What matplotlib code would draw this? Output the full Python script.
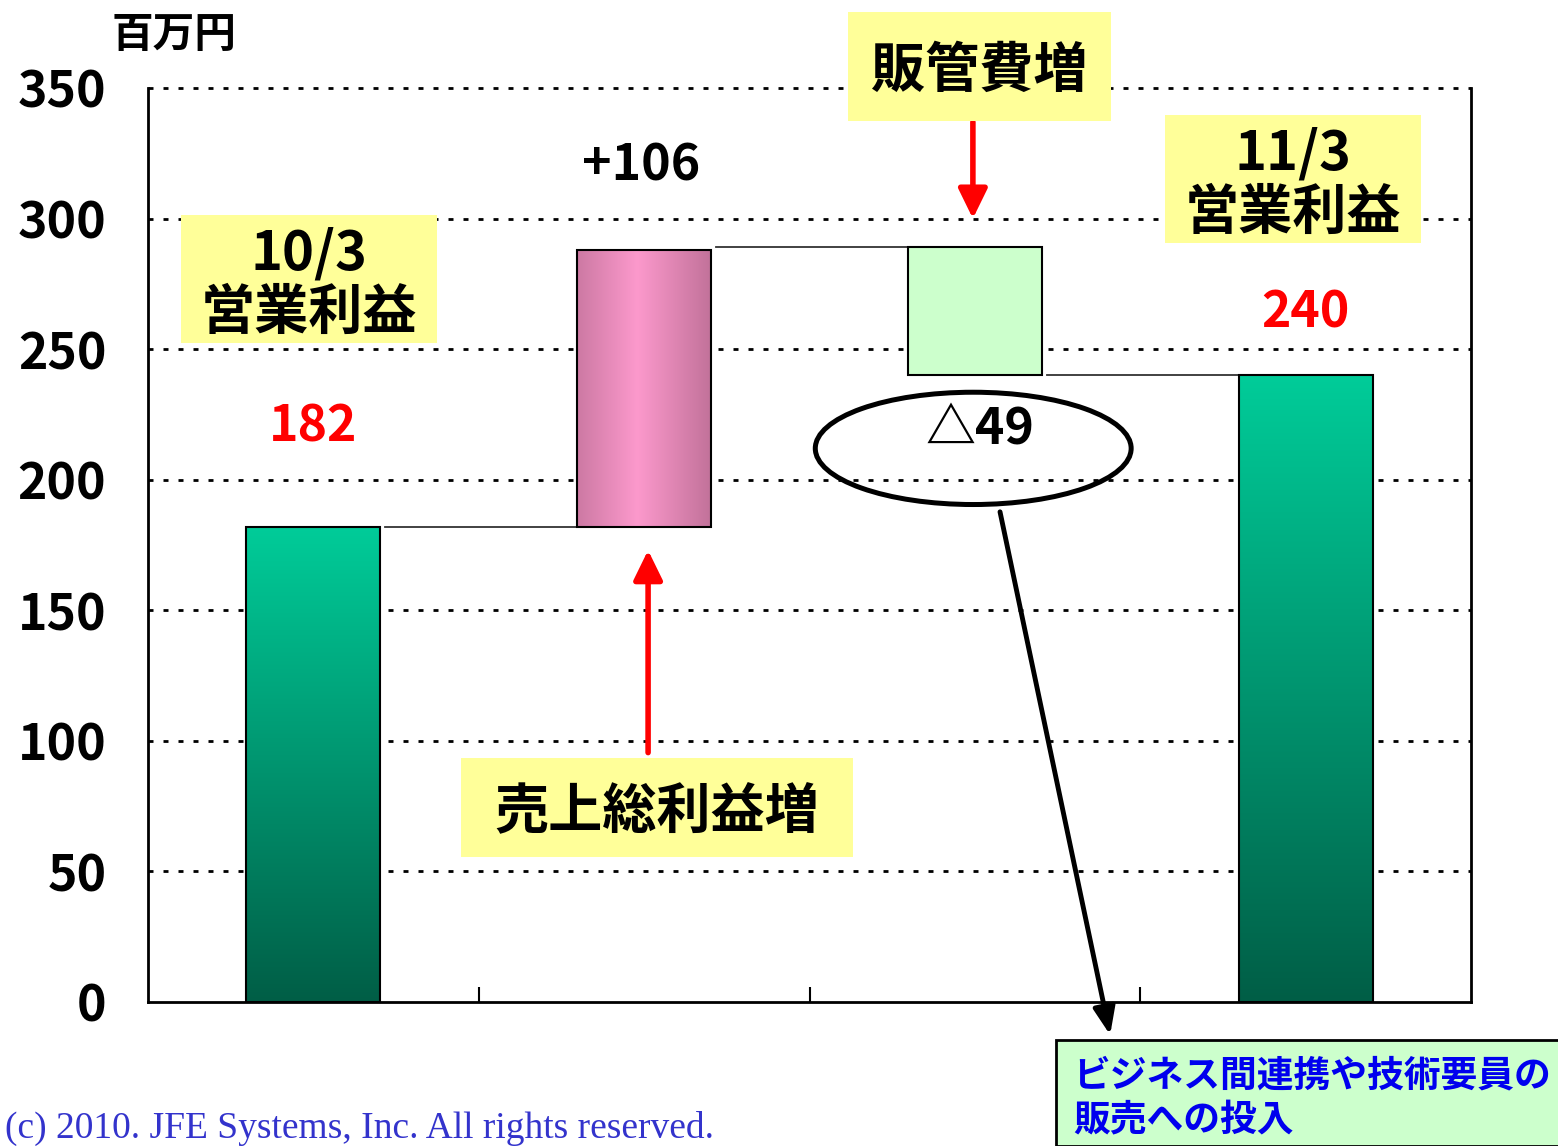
import numpy as np
import matplotlib.pyplot as plt
from matplotlib.patches import Ellipse, Rectangle

plt.rcParams['font.family'] = ['Noto Sans CJK JP', 'DejaVu Sans']

# waterfall of operating profit, 10/3 -> 11/3 (million yen)
steps = ['10/3\n営業利益', '売上総利益増', '販管費増', '11/3\n営業利益']
bottoms = [0, 182, 240, 0]
heights = [182, 106, 49, 240]
value_labels = ['182', '+106', '△49', '240']
yticks = [0, 50, 100, 150, 200, 250, 300, 350]
unit = '百万円'
note = 'ビジネス間連携や技術要員の\n販売への投入'
credit = '(c) 2010. JFE Systems, Inc. All rights reserved.'

W, H = 1558, 1146
fig = plt.figure(figsize=(W / 100, H / 100), dpi=100)
fx = lambda px: px / W
fy = lambda py: 1 - py / H

ax = fig.add_axes([fx(148), fy(1002), 1323 / W, 914 / H])

xs = np.arange(len(steps)) + 0.5
bw = 0.405

# gradient fills
green_top = np.array([0, 204, 153]) / 255
green_bot = np.array([0, 94, 70]) / 255
t = np.linspace(0, 1, 256)[:, None]
green_grad = (green_bot * (1 - t) + green_top * t)[:, None, :]  # rows from bottom to top

pink_edge = np.array([194, 114, 154]) / 255
pink_mid = np.array([252, 153, 204]) / 255
u = np.linspace(0, 1, 256)
w = np.clip(1 - np.abs(u - 0.45) / 0.55, 0, 1)[:, None]
pink_grad = (pink_edge * (1 - w) + pink_mid * w)[None, :, :]

for i, (x, b, h) in enumerate(zip(xs, bottoms, heights)):
    ext = (x - bw / 2, x + bw / 2, b, b + h)
    if i in (0, 3):
        ax.imshow(green_grad, extent=ext, origin='lower', aspect='auto',
                  interpolation='bilinear', zorder=2)
        ax.bar(x, h, bw, bottom=b, fill=False, edgecolor='black', lw=1.5, zorder=3)
    elif i == 1:
        ax.imshow(pink_grad, extent=ext, origin='lower', aspect='auto',
                  interpolation='bilinear', zorder=2)
        ax.bar(x, h, bw, bottom=b, fill=False, edgecolor='black', lw=1.5, zorder=3)
    else:
        ax.bar(x, h, bw, bottom=b, color='#CCFFCC', edgecolor='black', lw=1.5, zorder=3)

# connector lines between bars
tops = [b + h for b, h in zip(bottoms, heights)]
levels = [tops[0], tops[2], bottoms[2]]
for i, lvl in enumerate(levels):
    ax.plot([xs[i] + bw / 2 + 0.015, xs[i + 1] - bw / 2], [lvl, lvl],
            color='#333333', lw=1.3, zorder=2)

ax.set_xlim(0, 4)
ax.set_ylim(0, 350)
ax.set_yticks(yticks)
ax.set_yticklabels([str(v) for v in yticks], fontsize=36, fontweight='bold')
ax.tick_params(axis='y', length=0, pad=30)
ax.set_xticks([1, 2, 3])
ax.set_xticklabels([])
ax.tick_params(axis='x', direction='in', length=11, width=1.5)

for yv in yticks[1:]:
    ax.axhline(yv, color='black', lw=2, ls=(0, (1.8, 3.6)), zorder=1, clip_on=False)
for s in ('left', 'bottom', 'right'):
    ax.spines[s].set_linewidth(2)
ax.spines['top'].set_visible(False)

# value labels
ax.text(xs[0], 220, value_labels[0], color='red', fontsize=36, fontweight='bold',
        ha='center', va='center')
ax.text(xs[1] - 0.01, 320, value_labels[1], color='black', fontsize=36, fontweight='bold',
        ha='center', va='center')
ax.text(xs[3], 264, value_labels[3], color='red', fontsize=36, fontweight='bold',
        ha='center', va='center')
ax.text(xs[2] + 0.015, 219, value_labels[2], color='black', fontsize=36, fontweight='bold',
        ha='center', va='center')
ax.add_patch(Ellipse((xs[2] - 0.005, 212), 0.955, 43, fill=False, lw=3.6,
                     edgecolor='black', zorder=4))

# arrows
red = dict(arrowstyle='-|>,head_length=0.45,head_width=0.22', color='red', lw=4,
           mutation_scale=40, shrinkA=0, shrinkB=0)
ax.annotate('', xy=(xs[2] - 0.006, 300), xytext=(xs[2] - 0.006, 337), arrowprops=red,
            annotation_clip=False)
ax.annotate('', xy=(xs[1] + 0.012, 173), xytext=(xs[1] + 0.012, 95.5), arrowprops=red,
            annotation_clip=False)
ax.annotate('', xy=(2.909, -12.6), xytext=(2.576, 187.7),
            arrowprops=dict(arrowstyle='-|>,head_length=0.55,head_width=0.22',
                            color='black', lw=3.5, mutation_scale=30,
                            shrinkA=0, shrinkB=0),
            annotation_clip=False, zorder=6)


# yellow captions, boxes given in pixel space (left, top, right, bottom)
def caption(text, box_px):
    x0, y0, x1, y1 = box_px
    fig.add_artist(Rectangle((fx(x0), fy(y1)), fx(x1) - fx(x0), fy(y0) - fy(y1),
                             transform=fig.transFigure, facecolor='#FFFF99',
                             edgecolor='none', zorder=1))
    fig.text(fx((x0 + x1) / 2), fy((y0 + y1) / 2 + 5), text, fontsize=39,
             fontweight='bold', ha='center', va='center', linespacing=1.1, zorder=2)


caption(steps[0], (181, 215, 437, 343))
caption(steps[1], (461, 758, 853, 857))
caption(steps[2], (848, 12, 1111, 121))
caption(steps[3], (1165, 115, 1421, 243))

fig.text(fx(112), fy(35), unit, fontsize=30, fontweight='bold', ha='left', va='center')

# note box at the lower right
fig.add_artist(Rectangle((fx(1056), 0), 1, fy(1040), transform=fig.transFigure,
                         facecolor='#CCFFCC', edgecolor='black', lw=2))
fig.text(fx(1073), fy(1057), note, fontsize=26.5, fontweight='bold', color='#0000EE',
         ha='left', va='top', linespacing=1.25)

fig.text(fx(5), fy(1138), credit, family='Liberation Serif', fontsize=27,
         color='#3333CC', ha='left', va='baseline')

fig.savefig('out.png', dpi=100)
